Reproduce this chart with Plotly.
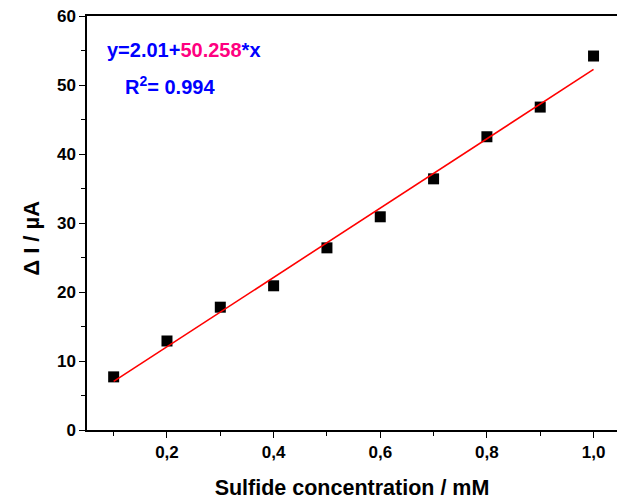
import plotly.graph_objects as go

conc = [0.1, 0.2, 0.3, 0.4, 0.5, 0.6, 0.7, 0.8, 0.9, 1.0]
delta_i = [7.7, 12.9, 17.8, 20.9, 26.4, 30.9, 36.4, 42.5, 46.8, 54.2]
intercept = 2.01
slope = 50.258
r2 = 0.994
x_ticks = [0.2, 0.4, 0.6, 0.8, 1.0]
x_tick_text = ["0,2", "0,4", "0,6", "0,8", "1,0"]
y_ticks = [0, 10, 20, 30, 40, 50, 60]

fit_x = [conc[0], conc[-1]]
fit_y = [intercept + slope * v for v in fit_x]

fig = go.Figure()
fig.add_trace(go.Scatter(x=conc, y=delta_i, mode="markers",
                         marker=dict(symbol="square", size=11, color="black"),
                         showlegend=False))
fig.add_trace(go.Scatter(x=fit_x, y=fit_y, mode="lines",
                         line=dict(color="red", width=1.6), showlegend=False))

font_family = "Liberation Sans, Arial, sans-serif"
fig.update_layout(
    width=617, height=502,
    margin=dict(l=87, r=0, t=16, b=72),
    paper_bgcolor="white", plot_bgcolor="white",
    font=dict(family=font_family, color="black"),
    xaxis=dict(range=[0.05, 1.044], tickvals=x_ticks, ticktext=x_tick_text,
               ticks="outside", ticklen=6, tickwidth=1.2, tickcolor="black",
               minor=dict(tickvals=[0.1, 0.3, 0.5, 0.7, 0.9], ticks="outside", ticklen=4, tickcolor="black", tickwidth=1.2),
               showline=True, linecolor="black", linewidth=1.5, mirror=True,
               showgrid=False, zeroline=False,
               tickfont=dict(size=17, family=font_family, weight="bold"),
               title=dict(text="<b>Sulfide concentration / mM</b>", font=dict(size=21.5), standoff=19)),
    yaxis=dict(range=[0, 60], tickvals=y_ticks,
               ticks="outside", ticklen=6, tickwidth=1.2, tickcolor="black",
               minor=dict(tickvals=[5, 15, 25, 35, 45, 55], ticks="outside", ticklen=4, tickcolor="black", tickwidth=1.2),
               showline=True, linecolor="black", linewidth=1.5, mirror=False,
               showgrid=False, zeroline=False,
               tickfont=dict(size=17, family=font_family, weight="bold")),
)

fig.add_annotation(xref="paper", yref="paper", x=-0.104, y=0.464, xanchor="center", yanchor="middle",
                   showarrow=False, textangle=-90,
                   text="<b>Δ I / µA</b>", font=dict(size=22, family=font_family, color="black"))
fig.add_annotation(xref="paper", yref="paper", x=0.034, y=0.918, xanchor="left", yanchor="middle",
                   showarrow=False,
                   text=f"<b><span style='color:#0000FF'>y={intercept}+</span><span style='color:#FF0080'>{slope}</span><span style='color:#0000FF'>*x</span></b>",
                   font=dict(size=20, family=font_family))
fig.add_annotation(xref="paper", yref="paper", x=0.068, y=0.832, xanchor="left", yanchor="middle",
                   showarrow=False,
                   text=f"<b>R<sup>2</sup>= {r2}</b>",
                   font=dict(size=20, family=font_family, color="#0000FF"))

fig.write_html("out.html")
